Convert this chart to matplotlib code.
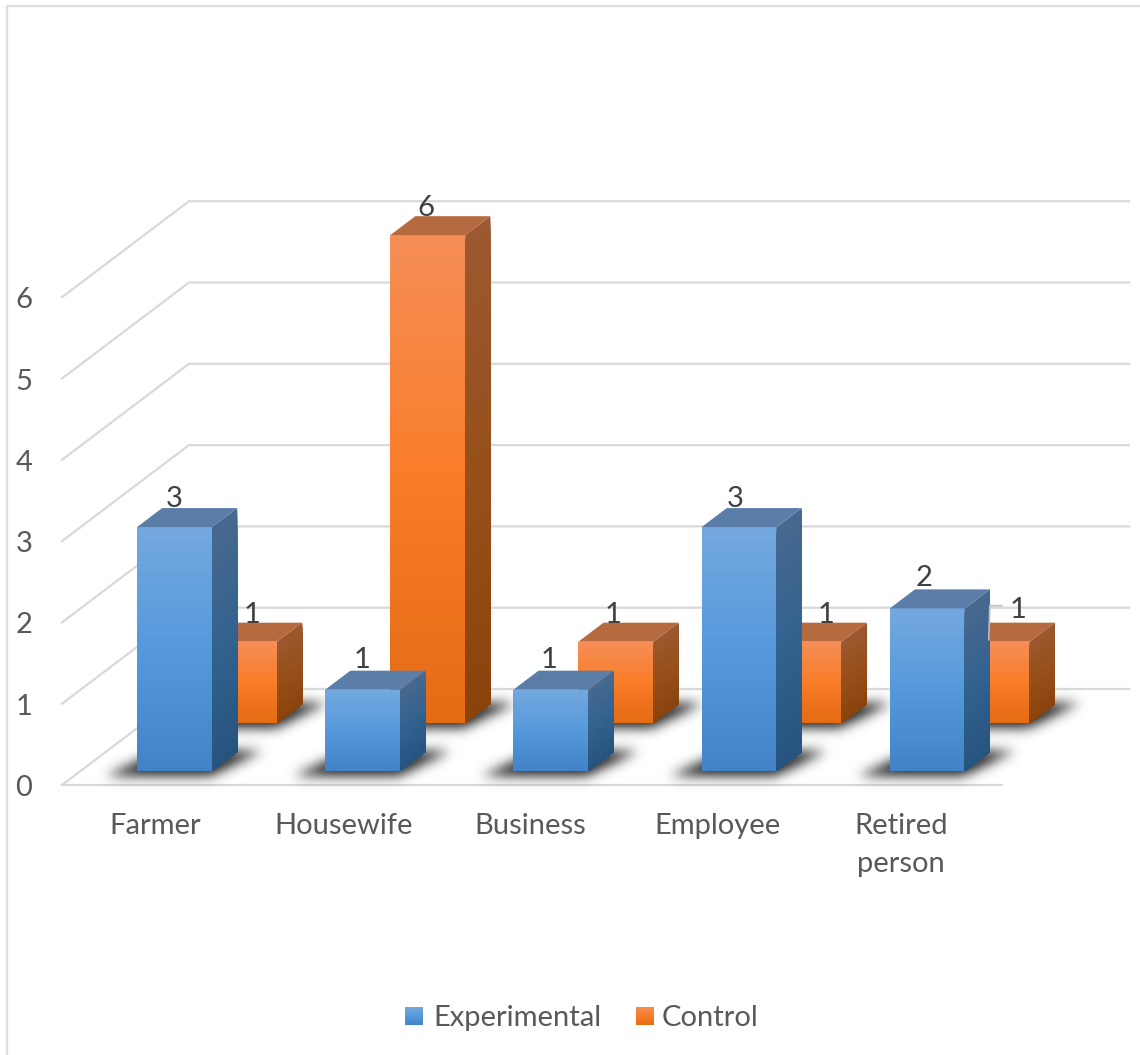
import matplotlib
matplotlib.use("Agg")
import matplotlib.pyplot as plt
import numpy as np
from matplotlib.colors import LinearSegmentedColormap
from matplotlib.patches import Polygon
from matplotlib.path import Path

categories = ["Farmer", "Housewife", "Business", "Employee", "Retired\nperson"]
experimental = [3, 1, 1, 3, 2]
control = [1, 6, 1, 1, 1]
value_ticks = [0, 1, 2, 3, 4, 5, 6]

# oblique projection of the 3D box: category position, value, depth -> pixels
X0, Y0 = 62, 785
CAT_STEP = 188.2
UNIT = 81.3
DEPTH_X, DEPTH_Y = 127, 96
BAR_W = 0.3985
BAR_D = 0.198

# nudges of the data labels, in pixels from the top of each bar
exp_label_shift = [(37, -28), (37, -30), (36, -30), (34, -28), (34, -30)]
ctl_label_shift = [(50, -27), (36, -27), (35, -27), (59, -27), (63, -32)]
cat_label_shift = [18, 18, 17, 16, 11]

FRONT_BLUE = ["#74A8DF", "#5599DB", "#4183C6"]
SIDE_BLUE = ["#48698F", "#33628F", "#27547F"]
TOP_BLUE = "#5A7EA8"
FRONT_ORANGE = ["#F58E57", "#F97C28", "#E46A14"]
SIDE_ORANGE = ["#9C5830", "#97501B", "#8B430C"]
TOP_ORANGE = "#B56A3F"
GRID = "#D9D9D9"
FONT = 21

plt.rcParams["font.family"] = ["Lato", "DejaVu Sans"]


def to_px(pos, value, depth):
    return (X0 + pos * CAT_STEP + depth * DEPTH_X, Y0 - value * UNIT - depth * DEPTH_Y)


def gradient_face(ax, bl, br, tr, tl, colors, zorder, strips=120):
    # paint overlapping bands from the top edge down, each one reaching the bottom edge,
    # so no seams show between them
    bl, br, tr, tl = map(np.array, (bl, br, tr, tl))
    cmap = LinearSegmentedColormap.from_list("g", colors)
    for k in range(strips):
        t = k / strips
        band = [tl + (bl - tl) * t, tr + (br - tr) * t, br, bl]
        ax.add_patch(Polygon(band, closed=True, facecolor=cmap((k + 0.5) / strips), edgecolor="none", zorder=zorder))


def draw_shadow(ax, pos, depth, zorder):
    # soft dark patch on the floor, built by blurring a filled polygon
    corners = [to_px(pos - 0.14, 0, depth - 0.05), to_px(pos + BAR_W + 0.02, 0, depth - 0.05),
               to_px(pos + BAR_W + 0.12, 0, depth + BAR_D + 0.02), to_px(pos - 0.02, 0, depth + BAR_D + 0.02)]
    corners = np.array(corners)
    pad = 26
    x0, x1 = int(corners[:, 0].min()) - pad, int(corners[:, 0].max()) + pad
    y0, y1 = int(corners[:, 1].min()) - pad, int(corners[:, 1].max()) + pad
    xx, yy = np.meshgrid(np.arange(x0, x1), np.arange(y0, y1))
    inside = Path(corners).contains_points(np.c_[xx.ravel(), yy.ravel()]).reshape(xx.shape).astype(float)
    kernel = np.exp(-0.5 * (np.arange(-18, 19) / 6.0) ** 2)
    kernel /= kernel.sum()
    inside = np.apply_along_axis(lambda r: np.convolve(r, kernel, mode="same"), 0, inside)
    inside = np.apply_along_axis(lambda r: np.convolve(r, kernel, mode="same"), 1, inside)
    rgba = np.zeros(inside.shape + (4,))
    rgba[..., :3] = 0.2
    rgba[..., 3] = np.clip(inside * 1.1, 0, 0.85)
    ax.imshow(rgba, aspect="auto", zorder=zorder, extent=[x0, x1, y1, y0], interpolation="bilinear")


def draw_bar(ax, pos, value, depth, front, side, top, zorder):
    a = to_px(pos, 0, depth)
    b = to_px(pos + BAR_W, 0, depth)
    c = to_px(pos + BAR_W, value, depth)
    d = to_px(pos, value, depth)
    e = to_px(pos + BAR_W, 0, depth + BAR_D)
    f = to_px(pos + BAR_W, value, depth + BAR_D)
    g = to_px(pos, value, depth + BAR_D)
    draw_shadow(ax, pos, depth, zorder)
    gradient_face(ax, a, b, c, d, front, zorder + 0.5)
    gradient_face(ax, b, e, f, c, side, zorder + 0.5)
    ax.add_patch(Polygon([d, c, f, g], closed=True, facecolor=top, edgecolor="none", zorder=zorder + 0.5))


fig = plt.figure(figsize=(11.4, 10.55), dpi=100)
ax = fig.add_axes([0, 0, 1, 1])

# chart frame, only its top and left edges fall inside the canvas
ax.plot([7, 7, 1140], [1055, 6, 6], color="#DEDEDE", lw=1.6, zorder=1)

# walls and floor
for v in value_ticks:
    front = to_px(0, v, 0)
    back = to_px(0, v, 1)
    back_end = to_px(940 / CAT_STEP, v, 1)
    ax.plot([front[0], back[0], back_end[0]], [front[1], back[1], back_end[1]], color=GRID, lw=1.6, zorder=2)
    ax.text(24, front[1] + 3, str(v), ha="center", va="center", fontsize=FONT, color="#595959")
floor = [to_px(940 / CAT_STEP, 0, 1), to_px(940 / CAT_STEP, 0, 0), to_px(0, 0, 0)]
ax.plot([floor[1][0], floor[2][0]], [floor[1][1], floor[2][1]], color=GRID, lw=1.6, zorder=2)

# control row sits behind the experimental row
for i, v in enumerate(control):
    draw_bar(ax, i + 0.308, v, 0.646, FRONT_ORANGE, SIDE_ORANGE, TOP_ORANGE, 3)
for i, v in enumerate(experimental):
    draw_bar(ax, i + 0.30, v, 0.146, FRONT_BLUE, SIDE_BLUE, TOP_BLUE, 5)

# data labels
for i, v in enumerate(control):
    x, y = to_px(i + 0.308, v, 0.646)
    ax.text(x + ctl_label_shift[i][0], y + ctl_label_shift[i][1], str(v), ha="center", va="center",
            fontsize=FONT, color="#404040", zorder=8)
for i, v in enumerate(experimental):
    x, y = to_px(i + 0.30, v, 0.146)
    ax.text(x + exp_label_shift[i][0], y + exp_label_shift[i][1], str(v), ha="center", va="center",
            fontsize=FONT, color="#404040", zorder=8)

# leader line of the last control label
lx, ly = to_px(4 + 0.308, control[4], 0.646)
ax.plot([lx + 34, lx + 35, lx + 47], [ly - 2, ly - 36, ly - 36], color="#BFBFBF", lw=1.2, zorder=8)

# category labels
for i, name in enumerate(categories):
    x = to_px(i + 0.30, 0, 0.146)[0] + cat_label_shift[i]
    ax.text(x, 813, name, ha="center", va="top", fontsize=FONT, color="#595959", linespacing=1.55)

# legend
ax_legend = [("Experimental", FRONT_BLUE, 405, 433), ("Control", FRONT_ORANGE, 636, 662)]
for name, colors, sq_x, txt_x in ax_legend:
    gradient_face(ax, (sq_x, 1025), (sq_x + 18, 1025), (sq_x + 18, 1007), (sq_x, 1007), colors, 3, strips=18)
    ax.text(txt_x, 1018, name, ha="left", va="center", fontsize=FONT, color="#595959")

ax.set_xlim(0, 1140)
ax.set_ylim(1055, 0)
ax.axis("off")
fig.savefig("out.png", dpi=100, facecolor="white")
